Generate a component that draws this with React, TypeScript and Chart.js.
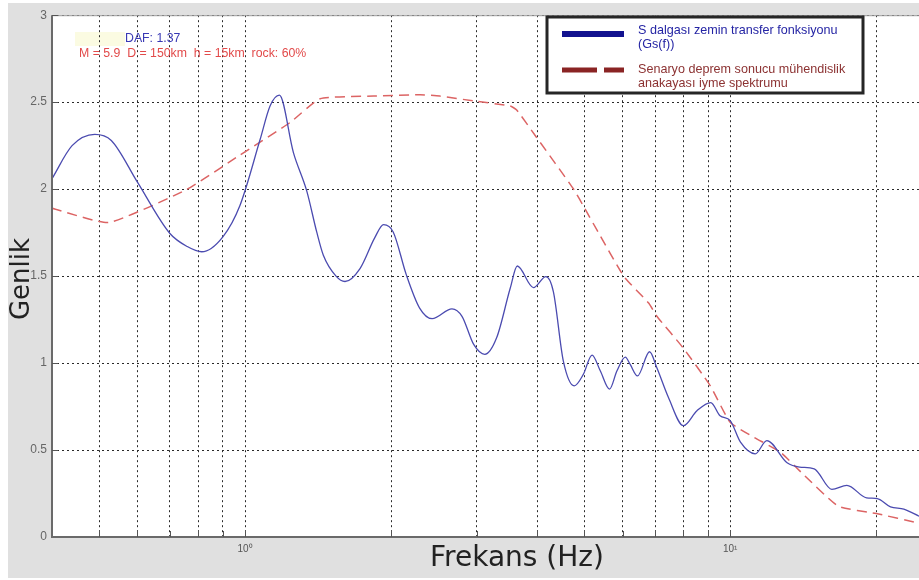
import React, { useEffect, useRef } from 'react';
import { Chart, registerables } from 'chart.js';

Chart.register(...registerables);

// ---- data ----
const blueFreq = [0.4, 0.44, 0.49, 0.53, 0.6, 0.7, 0.76, 0.814, 0.9, 0.976, 1.074, 1.126, 1.177, 1.258, 1.34, 1.405, 1.45, 1.54, 1.607, 1.727, 1.85, 1.93, 2.02, 2.15, 2.29, 2.43, 2.67, 2.8, 2.96, 3.12, 3.3, 3.52, 3.64, 3.93, 4.17, 4.32, 4.53, 4.77, 4.98, 5.19, 5.4, 5.64, 5.84, 6.08, 6.22, 6.44, 6.82, 7.06, 7.46, 8.01, 8.54, 9.12, 9.53, 10.0, 10.5, 11.26, 11.9, 13.1, 13.9, 14.9, 16.2, 17.4, 19.1, 20.1, 21.4, 22.8, 24.5];
const blueAmp = [2.06, 2.25, 2.315, 2.28, 2.04, 1.745, 1.67, 1.64, 1.726, 1.906, 2.285, 2.478, 2.54, 2.21, 1.99, 1.754, 1.62, 1.5, 1.469, 1.545, 1.72, 1.796, 1.754, 1.507, 1.316, 1.255, 1.312, 1.269, 1.107, 1.05, 1.145, 1.43, 1.558, 1.434, 1.497, 1.411, 1.011, 0.869, 0.935, 1.046, 0.954, 0.85, 0.954, 1.034, 0.992, 0.926, 1.065, 0.973, 0.802, 0.64, 0.726, 0.773, 0.697, 0.669, 0.545, 0.478, 0.554, 0.427, 0.402, 0.392, 0.274, 0.297, 0.225, 0.221, 0.173, 0.16, 0.12];

const redFreq = [0.4, 0.523, 0.758, 0.976, 1.238, 1.428, 1.84, 2.295, 2.52, 2.96, 3.52, 3.63, 3.99, 4.75, 5.02, 5.34, 6.04, 6.79, 7.06, 8.0, 9.1, 10.0, 11.2, 12.7, 14.1, 16.7, 20.0, 24.5];
const redAmp = [1.89, 1.808, 1.998, 2.196, 2.383, 2.52, 2.535, 2.543, 2.535, 2.507, 2.478, 2.455, 2.297, 2.002, 1.887, 1.754, 1.497, 1.345, 1.269, 1.087, 0.869, 0.659, 0.573, 0.487, 0.364, 0.177, 0.135, 0.08];

const xGridValues = [0.5, 0.6, 0.7, 0.8, 0.9, 1, 2, 3, 4, 5, 6, 7, 8, 9, 10, 20];
const xTickLabels: Record<string, string> = { '1': '10\u2070', '10': '10\u00B9' };
const yMin = 0;
const yMax = 3;
const yStep = 0.5;
const xMin = 0.4;
const xMax = 24.5;

const seriesNames = ['S dalgası zemin transfer fonksiyonu (Gs(f))', 'Senaryo deprem sonucu mühendislik anakayası iyme spektrumu'];
const legendLines1 = ['S dalgası zemin transfer fonksiyonu', '(Gs(f))'];
const legendLines2 = ['Senaryo deprem sonucu mühendislik', 'anakayası iyme spektrumu'];
const noteDAF = 'DAF: 1.37';
const noteParams = 'M = 5.9  D = 150km  h = 15km  rock: 60%';
const xTitle = 'Frekans (Hz)';
const yTitle = 'Genlik';

// canvas placement on page
const OX = 8;
const OY = 3;
const CW = 911;
const CH = 575;

const decorPlugin = {
  id: 'decor',
  beforeDraw(chart: any) {
    const { ctx, chartArea: a } = chart;
    ctx.save();
    ctx.fillStyle = '#e0e0e0';
    ctx.fillRect(0, 0, chart.width, chart.height);
    ctx.fillStyle = '#ffffff';
    ctx.fillRect(a.left, a.top, a.right - a.left, a.bottom - a.top);
    // faint highlight behind DAF note
    ctx.fillStyle = '#fbfbe2';
    ctx.fillRect(75 - OX, 32 - OY, 50, 14);
    ctx.restore();
  },
  afterDraw(chart: any) {
    const { ctx, chartArea: a, scales } = chart;
    const xs = scales.x;
    const ys = scales.y;
    ctx.save();
    // axis lines
    ctx.strokeStyle = '#6a6a6a';
    ctx.lineWidth = 2;
    ctx.beginPath();
    ctx.moveTo(a.left, a.top);
    ctx.lineTo(a.left, a.bottom);
    ctx.lineTo(a.right, a.bottom);
    ctx.stroke();
    ctx.strokeStyle = '#9a9a9a';
    ctx.lineWidth = 1;
    ctx.beginPath();
    ctx.moveTo(a.left, a.top + 0.5);
    ctx.lineTo(a.right, a.top + 0.5);
    ctx.stroke();
    // inward ticks
    ctx.strokeStyle = '#555';
    ctx.lineWidth = 1;
    ctx.beginPath();
    for (let v = yMin + yStep; v < yMax + 0.001; v += yStep) {
      const py = Math.round(ys.getPixelForValue(v)) + 0.5;
      ctx.moveTo(a.left, py);
      ctx.lineTo(a.left + 6, py);
    }
    for (const v of xGridValues) {
      const px = Math.round(xs.getPixelForValue(v)) + 0.5;
      ctx.moveTo(px, a.bottom);
      ctx.lineTo(px, a.bottom - 6);
    }
    ctx.stroke();

    // notes
    ctx.textBaseline = 'middle';
    ctx.textAlign = 'left';
    ctx.font = '12.3px "Liberation Sans", Arial, sans-serif';
    ctx.fillStyle = '#3838b4';
    ctx.fillText(noteDAF, 125 - OX, 39 - OY);
    ctx.fillStyle = '#e24a4a';
    ctx.fillText(noteParams, 79 - OX, 54 - OY);

    // legend
    const lx = 547 - OX, ly = 17 - OY, lw = 316, lh = 76;
    ctx.fillStyle = '#ffffff';
    ctx.fillRect(lx, ly, lw, lh);
    ctx.strokeStyle = '#262626';
    ctx.lineWidth = 3;
    ctx.strokeRect(lx, ly, lw, lh);
    ctx.lineCap = 'butt';
    ctx.strokeStyle = '#12128f';
    ctx.lineWidth = 6;
    ctx.beginPath();
    ctx.moveTo(562 - OX, 34 - OY);
    ctx.lineTo(624 - OX, 34 - OY);
    ctx.stroke();
    ctx.strokeStyle = '#8a2424';
    ctx.lineWidth = 5;
    ctx.setLineDash([35, 7]);
    ctx.beginPath();
    ctx.moveTo(562 - OX, 70 - OY);
    ctx.lineTo(624 - OX, 70 - OY);
    ctx.stroke();
    ctx.setLineDash([]);
    ctx.font = '12.6px "Liberation Sans", Arial, sans-serif';
    ctx.fillStyle = '#2424a4';
    ctx.fillText(legendLines1[0], 638 - OX, 31 - OY);
    ctx.fillText(legendLines1[1], 638 - OX, 45 - OY);
    ctx.fillStyle = '#8c3232';
    ctx.fillText(legendLines2[0], 638 - OX, 70 - OY);
    ctx.fillText(legendLines2[1], 638 - OX, 84 - OY);

    // axis titles
    ctx.fillStyle = '#222222';
    ctx.textAlign = 'center';
    ctx.font = '28px "DejaVu Sans", sans-serif';
    ctx.fillText(xTitle, 517 - OX, 559 - OY);
    ctx.save();
    ctx.translate(22 - OX, 279 - OY);
    ctx.rotate(-Math.PI / 2);
    ctx.font = '26px "DejaVu Sans", sans-serif';
    ctx.fillText(yTitle, 0, 0);
    ctx.restore();
    ctx.restore();
  },
};

export default function App() {
  const ref = useRef<HTMLCanvasElement | null>(null);
  useEffect(() => {
    if (!ref.current) return;
    const chart = new Chart(ref.current, {
      type: 'line',
      data: {
        datasets: [
          {
            label: seriesNames[0],
            data: blueFreq.map((f, i) => ({ x: f, y: blueAmp[i] })),
            borderColor: '#4b4bb0',
            borderWidth: 1.3,
            pointRadius: 0,
            cubicInterpolationMode: 'monotone',
            fill: false,
          },
          {
            label: seriesNames[1],
            data: redFreq.map((f, i) => ({ x: f, y: redAmp[i] })),
            borderColor: '#dc6464',
            borderWidth: 1.5,
            borderDash: [10, 6],
            pointRadius: 0,
            tension: 0.15,
            fill: false,
          },
        ],
      },
      options: {
        responsive: false,
        animation: false,
        devicePixelRatio: 1,
        layout: { padding: { top: 9, right: 0, left: 0, bottom: 0 } },
        plugins: { legend: { display: false }, tooltip: { enabled: false } },
        scales: {
          x: {
            type: 'logarithmic',
            min: xMin,
            max: xMax,
            afterBuildTicks: (scale: any) => {
              scale.ticks = xGridValues.map((v) => ({ value: v }));
            },
            afterFit: (scale: any) => {
              scale.height = 41;
            },
            ticks: {
              autoSkip: false,
              maxRotation: 0,
              minRotation: 0,
              padding: 6,
              color: '#555',
              font: { size: 10, family: '"Liberation Sans", Arial, sans-serif' },
              callback: (v: any) => xTickLabels[String(v)] ?? '',
            },
            grid: { color: '#2a2a2a', lineWidth: 1, drawTicks: false },
            border: { display: false, dash: [2, 3] },
          },
          y: {
            type: 'linear',
            min: yMin,
            max: yMax,
            afterFit: (scale: any) => {
              scale.width = 44;
            },
            ticks: {
              stepSize: yStep,
              padding: 5,
              color: '#666',
              font: { size: 12, family: '"Liberation Sans", Arial, sans-serif' },
              callback: (v: any) => String(v),
            },
            grid: { color: '#2a2a2a', lineWidth: 1, drawTicks: false },
            border: { display: false, dash: [2, 3] },
          },
        },
      },
      plugins: [decorPlugin],
    } as any);
    return () => chart.destroy();
  }, []);
  return (
    <div style={{ position: 'absolute', left: OX, top: OY, width: CW, height: CH }}>
      <canvas ref={ref} width={CW} height={CH} style={{ display: 'block', width: CW, height: CH }} />
    </div>
  );
}
